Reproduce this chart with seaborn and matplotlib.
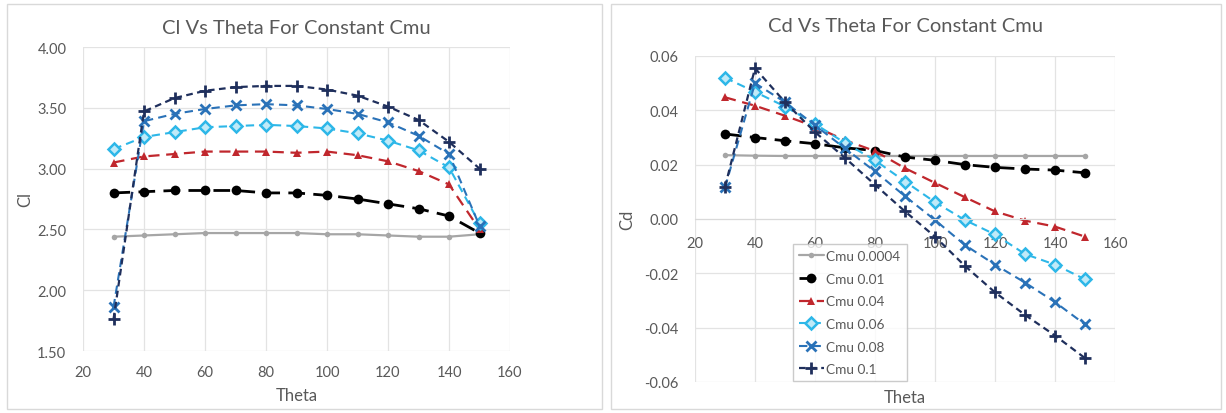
import numpy as np
import pandas as pd
import matplotlib
matplotlib.use("Agg")
import matplotlib.pyplot as plt
from matplotlib.patches import Rectangle
from matplotlib.ticker import FormatStrFormatter
import seaborn as sns

sns.set_style("white")
plt.rcParams['font.family'] = ['Lato', 'DejaVu Sans']

theta = [30, 40, 50, 60, 70, 80, 90, 100, 110, 120, 130, 140, 150]
series_names = ["Cmu 0.0004", "Cmu 0.01", "Cmu 0.04", "Cmu 0.06", "Cmu 0.08", "Cmu 0.1"]

cl_0004 = [2.44, 2.45, 2.46, 2.47, 2.47, 2.47, 2.47, 2.46, 2.46, 2.45, 2.44, 2.44, 2.46]
cl_001 = [2.80, 2.81, 2.82, 2.82, 2.82, 2.80, 2.80, 2.78, 2.75, 2.71, 2.67, 2.61, 2.47]
cl_004 = [3.05, 3.10, 3.12, 3.14, 3.14, 3.14, 3.13, 3.14, 3.11, 3.06, 2.98, 2.87, 2.50]
cl_006 = [3.16, 3.26, 3.30, 3.34, 3.35, 3.36, 3.35, 3.33, 3.29, 3.23, 3.15, 3.01, 2.55]
cl_008 = [1.86, 3.39, 3.45, 3.49, 3.52, 3.53, 3.52, 3.49, 3.45, 3.38, 3.27, 3.12, 2.53]
cl_01 = [1.76, 3.47, 3.58, 3.64, 3.67, 3.68, 3.68, 3.65, 3.60, 3.51, 3.40, 3.22, 3.00]

cd_0004 = [0.0235, 0.0233, 0.0232, 0.0232, 0.0232, 0.0232, 0.0232, 0.0232, 0.0232, 0.0232, 0.0232, 0.0232, 0.0232]
cd_001 = [0.0313, 0.0300, 0.0288, 0.0277, 0.0262, 0.0252, 0.0228, 0.0216, 0.0200, 0.0190, 0.0184, 0.0180, 0.0170]
cd_004 = [0.0448, 0.0417, 0.0380, 0.0340, 0.0290, 0.0250, 0.0187, 0.0133, 0.0080, 0.0028, -0.0006, -0.0028, -0.0065]
cd_006 = [0.0520, 0.0468, 0.0414, 0.0350, 0.0280, 0.0216, 0.0138, 0.0062, -0.0004, -0.0057, -0.0129, -0.0168, -0.0222]
cd_008 = [0.0116, 0.0500, 0.0430, 0.0345, 0.0260, 0.0175, 0.0084, -0.0004, -0.0096, -0.0168, -0.0234, -0.0306, -0.0388]
cd_01 = [0.0118, 0.0555, 0.0430, 0.0320, 0.0225, 0.0126, 0.0028, -0.0065, -0.0173, -0.0270, -0.0353, -0.0429, -0.0512]

cl_data = [cl_0004, cl_001, cl_004, cl_006, cl_008, cl_01]
cd_data = [cd_0004, cd_001, cd_004, cd_006, cd_008, cd_01]

styles = {
    "Cmu 0.0004": dict(color="#A6A6A6", marker="o", ms=4, lw=1.6, ls="-", mfc="#A6A6A6", mew=0),
    "Cmu 0.01": dict(color="#000000", marker="o", ms=7, lw=2.0, ls=(0, (6, 3)), mfc="#000000", mew=0),
    "Cmu 0.04": dict(color="#C0272D", marker="^", ms=6, lw=1.6, ls=(0, (5, 3)), mfc="#C0272D", mew=0),
    "Cmu 0.06": dict(color="#2DB7E8", marker="D", ms=6, lw=1.5, ls=(0, (4, 2.5)), mfc="#BFEAF8", mew=1.8),
    "Cmu 0.08": dict(color="#2A72B8", marker="x", ms=7, lw=1.5, ls=(0, (4, 2.5)), mfc="#2A72B8", mew=2.0),
    "Cmu 0.1": dict(color="#1F2F5C", marker="+", ms=9, lw=1.6, ls=(0, (3, 2)), mfc="#1F2F5C", mew=2.0),
}

W, H = 1226, 414
fig = plt.figure(figsize=(W / 100, H / 100), dpi=100)
fig.patch.set_facecolor("white")

def fx(px):
    return px / W

def fy(py):
    return 1 - py / H

# panel borders
for x0, x1 in [(7, 602), (611, 1221)]:
    fig.patches.append(Rectangle((fx(x0), fy(410)), fx(x1 - x0), (410 - 5) / H,
                                 transform=fig.transFigure, fill=False,
                                 edgecolor="#D9D9D9", lw=1.0))

text_color = "#595959"
grid_color = "#E3E3E3"

ax1 = fig.add_axes([fx(83), fy(352), fx(510 - 83), (352 - 48) / H])
ax2 = fig.add_axes([fx(695), fy(383), fx(1115 - 695), (383 - 57) / H])

def draw(ax, data):
    for name, vals in zip(series_names, data):
        st = styles[name]
        df = pd.DataFrame({"Theta": theta, "v": vals})
        sns.lineplot(data=df, x="Theta", y="v", ax=ax, color=st["color"],
                     linestyle=st["ls"], linewidth=st["lw"], marker=st["marker"],
                     markersize=st["ms"], markerfacecolor=st["mfc"],
                     markeredgecolor=st["color"], markeredgewidth=st["mew"],
                     label=name, legend=False, clip_on=False)

draw(ax1, cl_data)
draw(ax2, cd_data)

for ax in (ax1, ax2):
    ax.set_xlim(20, 160)
    ax.set_xticks(range(20, 161, 20))
    ax.grid(True, color=grid_color, lw=0.9)
    ax.set_axisbelow(True)
    for s in ax.spines.values():
        s.set_visible(False)
    ax.tick_params(axis="both", length=0, labelsize=10.5, labelcolor=text_color)

ax1.set_ylim(1.5, 4.0)
ax1.set_yticks(np.arange(1.5, 4.01, 0.5))
ax1.yaxis.set_major_formatter(FormatStrFormatter("%.2f"))
ax1.tick_params(axis="x", pad=10)
ax1.tick_params(axis="y", pad=12)
ax1.set_xlabel("Theta", fontsize=12, color=text_color, labelpad=6)
ax1.set_ylabel("Cl", fontsize=12, color=text_color, labelpad=3)
ax1.set_title("Cl Vs Theta For Constant Cmu", fontsize=14.5, color=text_color, pad=10)

ax2.set_ylim(-0.06, 0.06)
ax2.set_yticks(np.arange(-0.06, 0.061, 0.02))
ax2.yaxis.set_major_formatter(FormatStrFormatter("%.2f"))
ax2.spines["bottom"].set_visible(True)
ax2.spines["bottom"].set_position(("data", 0))
ax2.spines["bottom"].set_color("#D9D9D9")
ax2.tick_params(axis="x", pad=12)
ax2.tick_params(axis="y", pad=12)
ax2.set_ylabel("Cd", fontsize=12, color=text_color, labelpad=6)
ax2.set_xlabel("")
ax2.text(0.5, -0.02, "Theta", transform=ax2.transAxes, ha="center", va="top",
         fontsize=12, color=text_color)
ax2.set_title("Cd Vs Theta For Constant Cmu", fontsize=14.5, color=text_color, pad=18)

leg = ax2.legend(loc="upper left", bbox_to_anchor=((793 - 695) / 420, (383 - 245) / 326),
                 fontsize=9.8, frameon=True, fancybox=False, edgecolor="#BFBFBF",
                 handlelength=1.8, handletextpad=0.2, labelspacing=0.78,
                 borderpad=0.45, borderaxespad=0)
for t in leg.get_texts():
    t.set_color(text_color)

fig.savefig("out.png", dpi=100, facecolor="white")
